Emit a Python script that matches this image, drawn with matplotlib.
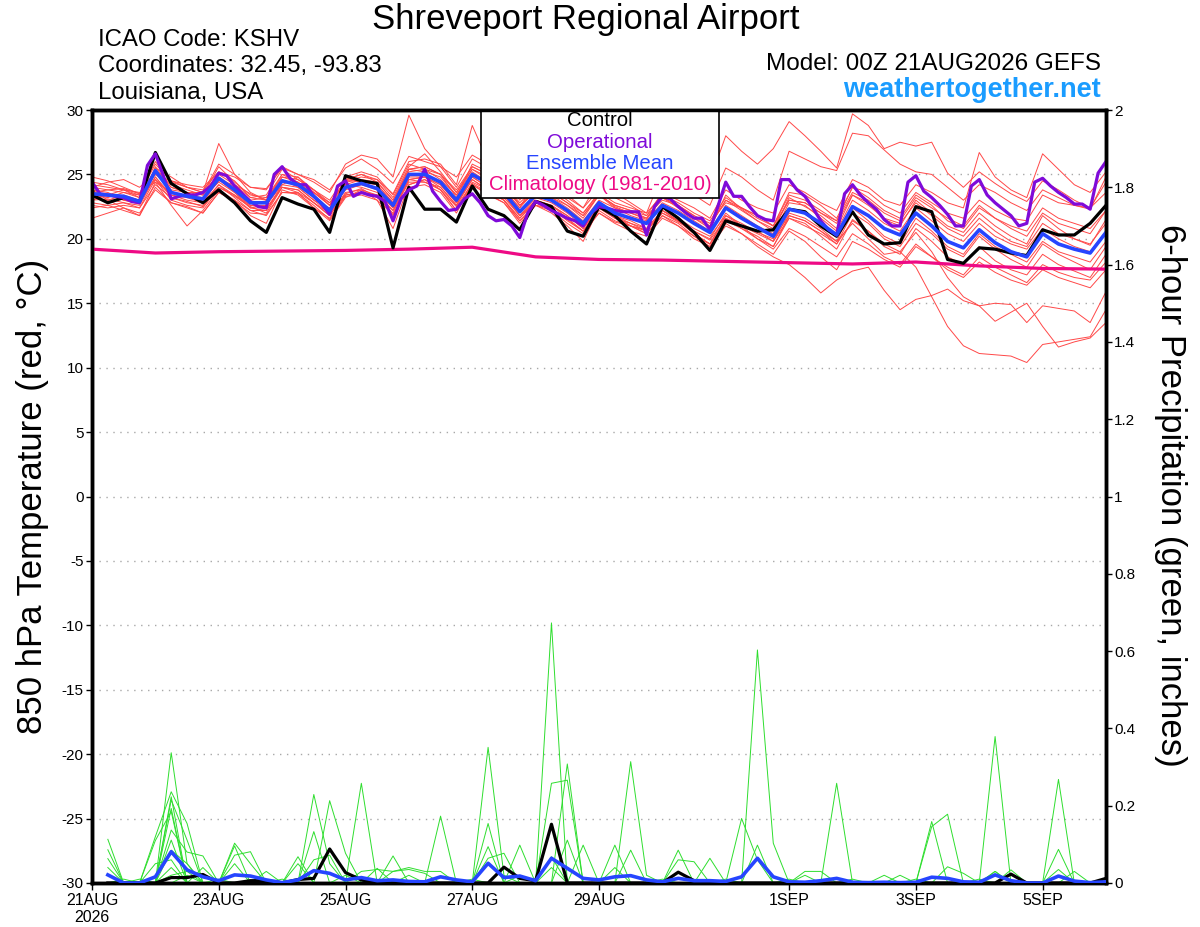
import numpy as np
import matplotlib
matplotlib.use('Agg')
import matplotlib.pyplot as plt
from matplotlib.patches import Rectangle
from matplotlib.ticker import FormatStrFormatter

plt.rcParams['font.family'] = ['Liberation Sans', 'DejaVu Sans']
plt.rcParams['axes.unicode_minus'] = False

# forecast hours
temp_hours = np.arange(0, 385, 6)
op_hours = np.arange(0, 385, 3)
precip_hours = np.arange(6, 385, 6)
clim_hours = np.arange(0, 385, 24)

tick_hours = [0, 48, 96, 144, 192, 264, 312, 360]
tick_labels = ['21AUG\n2026', '23AUG', '25AUG', '27AUG', '29AUG', '1SEP', '3SEP', '5SEP']

# 850 hPa temperature (C), 6-hourly
control_temp = [23.4, 22.8, 23.2, 22.9, 26.7, 24.3, 23.5, 22.8, 23.8, 22.8, 21.4, 20.5, 23.2,
                22.7, 22.3, 20.5, 24.9, 24.5, 24.3, 19.3, 24.0, 22.3, 22.3, 21.3, 24.1, 22.3,
                21.8, 20.7, 22.9, 22.5, 20.6, 20.2, 22.5, 21.8, 20.6, 19.6, 22.5, 21.6, 20.5,
                19.1, 21.4, 21.0, 20.6, 20.7, 22.3, 22.1, 21.0, 20.2, 22.1, 20.3, 19.6, 19.7,
                22.5, 22.1, 18.4, 18.1, 19.3, 19.2, 18.9, 18.7, 20.7, 20.3, 20.3, 21.2, 22.6]

mean_temp = [23.5, 23.4, 23.3, 22.9, 25.3, 23.6, 23.3, 23.1, 24.7, 23.8, 22.8, 22.8, 24.5,
             24.2, 23.3, 22.2, 24.0, 24.3, 23.9, 22.6, 25.0, 25.0, 24.4, 23.0, 25.0, 24.3,
             23.6, 22.1, 23.4, 23.0, 22.2, 21.2, 22.8, 22.0, 21.6, 21.2, 22.6, 22.0, 21.2,
             20.5, 22.4, 21.6, 20.9, 20.2, 22.3, 22.0, 21.2, 20.3, 22.5, 21.8, 20.8, 20.3,
             22.0, 21.0, 19.8, 19.3, 20.7, 19.7, 19.0, 18.6, 20.4, 19.6, 19.2, 18.9, 20.5]

# operational run, 3-hourly
op_temp = [24.4, 23.5, 23.4, 23.3, 23.2, 22.9, 22.8, 25.7, 26.6, 24.9,
           23.1, 23.3, 23.4, 23.4, 23.6, 24.1, 25.1, 24.9, 24.1, 23.5,
           22.9, 22.5, 22.4, 25.0, 25.6, 24.7, 24.2, 24.2, 23.3, 22.7,
           21.9, 24.1, 24.5, 23.3, 23.6, 23.4, 23.3, 22.9, 21.4, 23.1,
           23.8, 24.1, 25.4, 23.7, 22.9, 22.2, 22.3, 23.1, 23.5, 22.8,
           21.8, 21.4, 21.5, 21.0, 20.1, 22.0, 22.9, 22.6, 22.2, 21.9,
           21.6, 21.4, 21.0, 22.0, 22.5, 22.4, 22.2, 22.1, 22.1, 22.1,
           20.3, 22.5, 23.3, 23.1, 22.5, 22.0, 21.6, 21.6, 20.7, 22.5,
           24.4, 23.3, 23.3, 22.5, 21.8, 21.5, 21.4, 24.6, 24.6, 23.8,
           23.3, 22.4, 21.4, 20.7, 20.3, 23.5, 24.2, 23.4, 22.8, 22.3,
           21.5, 21.0, 21.0, 24.4, 24.9, 23.7, 23.2, 22.6, 21.9, 21.0,
           21.0, 24.1, 24.6, 23.4, 22.8, 22.3, 21.8, 21.0, 21.2, 24.4,
           24.7, 24.1, 23.6, 23.2, 22.7, 22.7, 22.3, 25.1, 26.0]

# daily climatology
clim_temp = [19.2, 18.9, 19.0, 19.05, 19.1, 19.2, 19.35, 18.6, 18.4, 18.35, 18.25,
             18.15, 18.05, 18.2, 17.9, 17.7, 17.65]

member_temps = [
    [24.0, 23.8, 23.9, 23.5, 25.8, 24.5, 24.2, 24.0, 25.2, 24.8, 24.0, 23.9, 25.5,
     25.0, 24.6, 23.8, 25.5, 26.2, 25.4, 24.3, 26.4, 26.0, 25.6, 24.8, 26.5, 25.8,
     25.0, 24.2, 25.2, 24.8, 24.0, 23.5, 25.8, 25.0, 24.3, 23.8, 26.0, 25.5, 24.6,
     24.5, 28.0, 26.8, 25.8, 27.0, 29.1, 28.0, 26.8, 25.5, 29.7, 28.8, 27.0, 27.5,
     27.2, 27.5, 25.1, 24.0, 25.2, 24.3, 23.5, 22.9, 24.5, 23.8, 23.0, 22.4, 23.6],
    [23.0, 23.1, 22.8, 22.6, 24.8, 23.2, 22.9, 22.5, 24.0, 23.3, 22.5, 22.0, 24.0,
     23.8, 22.8, 21.8, 23.5, 23.9, 23.2, 22.0, 24.6, 24.4, 23.8, 22.5, 24.3, 23.6,
     23.0, 21.6, 22.8, 22.2, 21.5, 20.6, 22.0, 21.3, 21.0, 20.7, 22.0, 21.3, 20.6,
     19.9, 21.6, 21.0, 20.4, 19.8, 21.6, 21.0, 20.4, 19.6, 21.4, 20.6, 19.6, 19.0,
     17.8, 15.5, 13.2, 11.7, 11.1, 11.0, 10.9, 10.4, 11.8, 12.0, 12.2, 12.4, 14.5],
    [24.2, 24.0, 23.8, 23.2, 25.0, 24.5, 24.0, 23.6, 25.8, 25.0, 24.0, 23.8, 25.6,
     25.0, 24.4, 23.6, 25.8, 26.5, 26.2, 24.8, 29.6, 27.0, 25.6, 24.0, 26.2, 25.5,
     24.6, 23.2, 24.3, 24.0, 23.4, 22.4, 24.5, 23.6, 22.8, 22.0, 25.0, 24.4, 23.4,
     22.6, 25.5, 24.8, 23.8, 23.0, 26.8, 26.2, 25.6, 25.3, 28.2, 28.0, 26.9, 25.8,
     25.2, 25.0, 24.0, 23.0, 24.2, 23.6, 22.8, 22.2, 23.8, 23.2, 22.6, 22.3, 24.8],
    [23.8, 23.6, 23.0, 22.7, 25.6, 24.0, 23.6, 23.0, 24.5, 24.2, 23.5, 23.0, 25.0,
     24.8, 23.8, 22.8, 24.5, 24.8, 24.6, 23.5, 26.0, 26.2, 25.8, 24.2, 28.8, 26.0,
     24.8, 23.0, 24.5, 23.6, 22.8, 22.0, 23.5, 22.5, 22.0, 21.5, 23.2, 22.6, 21.6,
     20.8, 23.4, 22.3, 21.4, 20.6, 23.2, 22.5, 21.8, 20.8, 23.4, 22.8, 21.5, 21.0,
     23.0, 22.0, 21.0, 20.5, 22.0, 21.0, 20.2, 19.6, 21.8, 20.8, 20.0, 19.5, 21.5],
    [23.2, 23.0, 23.4, 23.0, 25.5, 24.8, 24.0, 23.6, 27.4, 25.0, 23.6, 23.0, 24.8,
     24.4, 23.4, 22.0, 24.2, 24.0, 23.6, 22.4, 24.6, 24.8, 24.0, 22.6, 24.8, 24.0,
     23.4, 21.8, 23.0, 22.6, 21.8, 20.8, 22.4, 21.6, 21.2, 20.6, 22.0, 21.4, 20.4,
     19.6, 21.8, 21.0, 20.0, 19.4, 21.6, 21.2, 20.2, 19.2, 21.5, 20.6, 19.4, 18.8,
     20.8, 19.8, 18.6, 18.0, 19.4, 18.3, 17.6, 17.2, 18.8, 18.0, 17.5, 17.0, 18.8],
    [21.6, 22.0, 22.4, 21.8, 24.0, 22.8, 22.5, 22.0, 23.6, 22.9, 22.0, 21.9, 23.6,
     23.5, 22.6, 21.5, 23.3, 23.4, 23.0, 21.9, 24.0, 24.2, 23.6, 22.0, 24.2, 23.5,
     22.8, 21.2, 22.6, 22.2, 21.2, 20.4, 22.0, 21.2, 20.6, 20.2, 21.6, 21.0, 20.2,
     19.4, 21.4, 20.8, 20.2, 19.4, 21.8, 21.4, 20.6, 19.6, 22.0, 21.2, 20.0, 19.4,
     21.2, 20.4, 19.2, 18.6, 20.2, 19.2, 18.4, 17.8, 19.6, 18.8, 18.2, 17.6, 19.4],
    [24.8, 24.5, 24.0, 23.5, 26.0, 24.4, 24.0, 23.8, 25.2, 24.5, 23.2, 23.4, 25.4,
     24.6, 23.8, 23.0, 24.8, 25.2, 24.8, 23.4, 25.8, 25.4, 25.0, 23.8, 25.6, 25.0,
     24.2, 22.8, 24.0, 23.8, 23.0, 22.0, 23.6, 22.8, 22.4, 22.0, 23.4, 22.8, 22.0,
     21.4, 23.2, 22.4, 21.8, 21.0, 23.0, 22.8, 22.0, 21.2, 23.4, 22.6, 21.6, 21.2,
     22.8, 21.8, 20.8, 20.2, 21.6, 20.6, 19.8, 19.4, 21.2, 20.4, 20.0, 19.6, 21.2],
    [22.4, 22.6, 22.2, 21.8, 24.4, 22.6, 21.0, 22.2, 23.8, 23.0, 21.8, 21.2, 23.8,
     23.4, 22.4, 21.4, 23.2, 23.8, 23.0, 20.8, 24.2, 24.6, 23.8, 22.2, 24.4, 23.8,
     23.0, 21.4, 22.6, 22.0, 21.0, 19.8, 22.4, 21.8, 21.0, 20.6, 22.2, 21.4, 20.6,
     20.0, 22.0, 21.0, 20.6, 19.8, 22.0, 21.6, 20.8, 19.8, 22.4, 21.4, 20.2, 19.6,
     21.6, 20.6, 19.4, 18.8, 20.4, 19.4, 18.8, 18.2, 19.8, 19.0, 18.6, 18.2, 19.8],
    [23.6, 23.8, 23.6, 23.2, 24.6, 23.4, 23.0, 22.8, 24.2, 23.4, 22.4, 22.2, 24.2,
     24.8, 23.6, 22.6, 24.6, 25.0, 24.6, 23.2, 25.6, 26.6, 25.2, 23.6, 25.4, 24.6,
     23.8, 22.4, 24.6, 24.2, 23.2, 22.4, 23.8, 23.2, 22.6, 21.8, 23.0, 22.6, 21.8,
     21.2, 22.8, 22.4, 21.6, 21.0, 23.6, 23.4, 22.6, 21.6, 24.0, 23.2, 22.2, 21.6,
     23.4, 22.6, 21.4, 20.8, 22.4, 21.6, 20.8, 20.2, 22.0, 21.2, 20.8, 20.4, 22.2],
    [23.4, 23.2, 23.6, 23.4, 25.2, 23.8, 23.6, 23.4, 24.8, 24.0, 23.0, 23.2, 24.6,
     24.0, 23.0, 22.4, 24.4, 24.6, 24.2, 22.8, 25.2, 25.4, 24.6, 23.4, 25.2, 24.4,
     23.8, 22.4, 23.8, 23.4, 22.6, 21.8, 23.4, 22.6, 22.2, 21.8, 23.6, 23.0, 22.4,
     21.6, 23.8, 23.0, 22.4, 22.0, 24.2, 23.6, 22.8, 22.2, 24.6, 24.0, 23.0, 22.6,
     24.2, 23.6, 22.8, 22.4, 26.7, 24.8, 23.8, 23.2, 26.6, 25.4, 24.2, 23.6, 25.2],
    [22.8, 22.6, 22.8, 22.4, 24.6, 23.0, 22.6, 22.4, 24.0, 23.4, 22.6, 22.4, 24.0,
     23.6, 22.8, 21.8, 23.6, 23.8, 23.4, 22.2, 24.4, 24.4, 24.0, 22.6, 24.6, 23.8,
     23.2, 21.8, 22.8, 22.6, 21.6, 20.6, 22.2, 21.4, 21.0, 20.4, 21.8, 21.2, 20.2,
     19.6, 21.6, 20.8, 20.0, 19.2, 20.8, 20.2, 19.4, 18.6, 20.4, 19.6, 18.6, 18.0,
     19.6, 18.6, 17.6, 17.0, 18.2, 17.4, 16.8, 16.4, 17.6, 17.0, 16.6, 16.2, 17.6],
    [24.4, 24.2, 23.8, 23.4, 25.4, 24.2, 23.8, 23.4, 25.6, 24.4, 23.4, 23.2, 25.0,
     24.4, 23.6, 22.6, 24.6, 24.4, 24.2, 22.8, 25.4, 25.6, 25.0, 23.2, 25.8, 25.2,
     24.4, 22.6, 23.6, 23.2, 22.4, 21.4, 23.0, 22.4, 21.8, 21.4, 22.8, 22.2, 21.4,
     20.6, 22.6, 21.8, 21.0, 20.4, 22.8, 22.6, 21.6, 20.6, 23.0, 22.2, 21.2, 20.6,
     22.4, 21.4, 20.4, 19.8, 21.2, 20.2, 19.6, 19.2, 20.8, 20.0, 19.4, 19.0, 20.6],
    [23.0, 23.4, 23.8, 23.6, 24.4, 23.6, 23.4, 23.2, 24.4, 23.6, 22.6, 22.6, 24.4,
     24.2, 23.6, 22.8, 24.2, 24.6, 24.4, 23.0, 25.4, 25.2, 24.8, 23.4, 25.4, 24.8,
     24.0, 22.6, 23.6, 23.2, 22.6, 21.6, 23.4, 22.4, 22.0, 21.6, 23.2, 22.4, 21.6,
     21.0, 23.0, 22.2, 21.4, 20.8, 23.0, 22.8, 22.0, 21.4, 24.0, 23.6, 22.6, 22.0,
     23.6, 22.8, 22.0, 21.6, 23.0, 22.2, 21.6, 21.4, 23.4, 22.8, 22.6, 22.4, 24.4],
    [23.2, 23.4, 23.0, 22.8, 24.8, 23.4, 23.2, 22.8, 24.6, 23.6, 22.4, 22.6, 24.2,
     24.0, 23.0, 22.0, 23.8, 24.2, 23.8, 22.4, 24.8, 24.8, 24.2, 22.8, 24.8, 24.0,
     23.4, 21.8, 23.2, 22.8, 22.0, 21.0, 22.6, 21.8, 21.4, 20.8, 22.2, 21.4, 20.4,
     19.6, 21.2, 20.4, 19.4, 18.6, 18.0, 17.0, 15.8, 16.8, 17.5, 17.8, 16.0, 14.5,
     15.3, 15.6, 16.1, 15.2, 14.8, 15.0, 14.9, 13.5, 14.8, 14.6, 14.4, 13.5, 15.9],
    [22.6, 22.4, 22.6, 22.4, 24.2, 23.2, 22.8, 22.6, 24.2, 23.2, 22.2, 22.2, 24.0,
     23.8, 22.8, 22.0, 23.4, 23.6, 23.4, 22.2, 24.6, 24.8, 24.2, 22.8, 24.6, 23.8,
     23.0, 21.6, 23.0, 22.6, 21.8, 20.8, 22.6, 21.8, 21.2, 20.8, 22.2, 21.6, 20.8,
     20.2, 21.8, 21.2, 20.5, 20.0, 21.8, 21.4, 20.6, 19.8, 21.2, 20.0, 18.8, 19.0,
     20.5, 19.0, 17.0, 15.5, 14.8, 13.6, 14.3, 15.0, 13.2, 11.6, 12.0, 12.3, 13.5],
    [23.8, 23.0, 22.4, 22.0, 23.8, 22.8, 22.4, 22.0, 23.6, 23.0, 22.2, 21.8, 23.6,
     23.6, 22.4, 21.6, 23.4, 23.6, 23.4, 21.8, 24.2, 24.6, 23.8, 22.2, 24.2, 23.4,
     22.8, 21.4, 22.6, 22.4, 21.4, 20.6, 22.4, 21.6, 21.0, 20.4, 21.8, 21.0, 20.0,
     19.4, 21.0, 20.4, 19.6, 18.8, 20.6, 19.8, 18.6, 17.6, 19.8, 19.2, 18.4, 17.8,
     19.4, 18.6, 17.8, 17.2, 18.6, 17.8, 17.2, 16.6, 18.0, 17.4, 17.0, 16.8, 18.2],
    [24.0, 24.4, 24.6, 24.0, 25.0, 24.0, 23.6, 23.6, 25.0, 24.2, 23.2, 23.0, 24.8,
     24.6, 23.8, 22.6, 24.6, 25.0, 24.4, 23.0, 25.4, 25.6, 25.0, 23.6, 25.6, 25.0,
     24.2, 22.6, 23.8, 23.6, 22.8, 21.8, 23.4, 22.6, 22.2, 21.6, 23.2, 22.6, 21.8,
     21.0, 23.0, 22.4, 21.8, 21.0, 23.4, 23.0, 22.2, 21.4, 23.6, 23.0, 22.0, 21.4,
     23.2, 22.4, 21.6, 21.0, 22.6, 21.6, 21.0, 20.6, 22.4, 21.6, 21.2, 20.8, 22.2],
]

# 6-hour precipitation (inches), 6h .. 384h
control_precip = [0, 0, 0, 0, 0.014, 0.014, 0.022, 0, 0, 0.006,
                  0.006, 0, 0.009, 0.012, 0.088, 0.027, 0.008, 0, 0, 0,
                  0, 0, 0, 0, 0, 0.041, 0.012, 0.006, 0.152, 0,
                  0, 0, 0, 0, 0, 0, 0.028, 0.006, 0, 0,
                  0, 0, 0, 0, 0, 0, 0, 0, 0, 0,
                  0, 0, 0, 0, 0, 0, 0, 0.023, 0, 0,
                  0, 0, 0, 0.012]

mean_precip = [0.021, 0, 0, 0.016, 0.081, 0.034, 0.016, 0.006, 0.021, 0.018,
               0.008, 0.001, 0.008, 0.032, 0.025, 0.008, 0.014, 0.006, 0.008, 0.004,
               0.003, 0.016, 0.008, 0.003, 0.051, 0.014, 0.018, 0.006, 0.064, 0.038,
               0.012, 0.008, 0.016, 0.019, 0.008, 0.003, 0.012, 0.006, 0.006, 0.004,
               0.016, 0.064, 0.016, 0.003, 0.002, 0.006, 0.012, 0.002, 0.001, 0.002,
               0.001, 0.002, 0.015, 0.012, 0.003, 0.002, 0.021, 0.006, 0, 0,
               0.018, 0.005, 0.001, 0.003]

# member precipitation, non-zero 6h periods only {period: inches}
member_precip = [
    {5: 0.337, 6: 0.05, 29: 0.673, 42: 0.098},
    {4: 0.12, 5: 0.236, 6: 0.154, 25: 0.351, 26: 0.02, 57: 0.379},
    {5: 0.223, 14: 0.229, 15: 0.05, 30: 0.308, 42: 0.603, 43: 0.103},
    {1: 0.113, 5: 0.215, 6: 0.111, 17: 0.258, 34: 0.314, 35: 0.02},
    {1: 0.086, 5: 0.193, 9: 0.103, 10: 0.05, 22: 0.173, 29: 0.258, 30: 0.266, 53: 0.159},
    {4: 0.11, 5: 0.185, 9: 0.096, 15: 0.213, 16: 0.077, 41: 0.167, 42: 0.06, 47: 0.258},
    {5: 0.137, 6: 0.08, 7: 0.07, 14: 0.133, 25: 0.154, 53: 0.146, 54: 0.178, 61: 0.268},
    {1: 0.063, 5: 0.111, 9: 0.072, 10: 0.081, 13: 0.068, 25: 0.094, 27: 0.098, 30: 0.111, 61: 0.087},
    {5: 0.085, 6: 0.05, 19: 0.07, 25: 0.064, 26: 0.077, 33: 0.098, 37: 0.085, 57: 0.03},
    {1: 0.04, 4: 0.05, 5: 0.06, 14: 0.06, 15: 0.072, 29: 0.068, 31: 0.098, 39: 0.064, 61: 0.035},
    {5: 0.04, 7: 0.04, 11: 0.03, 13: 0.05, 18: 0.038, 29: 0.04, 34: 0.085, 37: 0.06,
     38: 0.055, 54: 0.042, 55: 0.025},
    {1: 0.02, 9: 0.05, 17: 0.03, 18: 0.035, 19: 0.03, 20: 0.04, 21: 0.03, 22: 0.03,
     33: 0.04, 45: 0.03, 46: 0.03, 50: 0.02, 58: 0.034, 62: 0.03},
    {3: 0.01, 5: 0.02, 6: 0.03, 19: 0.03, 20: 0.035, 21: 0.025, 45: 0.02, 51: 0.02, 57: 0.03},
    {2: 0.01, 6: 0.02, 8: 0.01, 12: 0.01, 16: 0.02, 20: 0.02, 24: 0.01, 27: 0.02,
     36: 0.01, 40: 0.01, 44: 0.01, 48: 0.01, 52: 0.01, 56: 0.01},
]

red = '#ff4848'
green = '#2ede2e'
purple = '#7f0ad9'
blue = '#2645ff'
pink = '#ee0a85'

fig = plt.figure(figsize=(12, 9.27), dpi=100)
ax = fig.add_axes([92 / 1200, 44 / 927, 1014 / 1200, 773 / 927])
ax2 = ax.twinx()

for m in member_temps:
    ax.plot(temp_hours, m, color=red, lw=0.7, zorder=2)
ax.plot(clim_hours, clim_temp, color=pink, lw=2.3, zorder=3)
ax.plot(temp_hours, control_temp, color='black', lw=2.3, zorder=4)
ax.plot(op_hours, op_temp, color=purple, lw=2.3, zorder=5)
ax.plot(temp_hours, mean_temp, color=blue, lw=2.6, zorder=6)

for d in member_precip:
    p = np.zeros(len(precip_hours))
    for k, v in d.items():
        p[k - 1] = v
    ax2.plot(precip_hours, p, color=green, lw=0.7, zorder=2)
ax2.plot(precip_hours, control_precip, color='black', lw=2.3, zorder=4)
ax2.plot(precip_hours, mean_precip, color=blue, lw=2.6, zorder=5)

ax.set_xlim(0, 384)
ax.set_ylim(-30, 30)
ax2.set_ylim(0, 2)
ax.set_yticks(np.arange(-30, 31, 5))
ax2.set_yticks(np.arange(0, 2.01, 0.2))
ax2.yaxis.set_major_formatter(FormatStrFormatter('%g'))
ax.set_xticks(tick_hours)
ax.set_xticklabels(tick_labels)

for y in np.arange(-25, 26, 5):
    ax.axhline(y, color='#a8a8a8', lw=1, ls=(0, (1, 4)), zorder=1)

for a in (ax, ax2):
    for s in a.spines.values():
        s.set_linewidth(2.5)
    a.tick_params(direction='out', length=4, width=1, labelsize=11, pad=2)
ax.tick_params(axis='x', length=5, labelsize=11.5)

# legend box
ax.add_patch(Rectangle((0.3836, 0.886), 0.2347, 0.114, transform=ax.transAxes,
                       facecolor='white', edgecolor='black', lw=1.2, zorder=10))
legend_items = [('Control', 'black'), ('Operational', purple),
                ('Ensemble Mean', blue), ('Climatology (1981-2010)', pink)]
for n, (txt, c) in enumerate(legend_items):
    ax.text(0.501, 0.9858 - n * 0.0276, txt, color=c, fontsize=14.7,
            ha='center', va='center', transform=ax.transAxes, zorder=11)

fig.text(0.488, 0.9795, 'Shreveport Regional Airport', fontsize=25, ha='center', va='center')
fig.text(0.0817, 0.9569, 'ICAO Code: KSHV', fontsize=17.3, ha='left', va='center')
fig.text(0.0817, 0.9288, 'Coordinates: 32.45, -93.83', fontsize=17.3, ha='left', va='center')
fig.text(0.0817, 0.8997, 'Louisiana, USA', fontsize=17.3, ha='left', va='center')
fig.text(0.9175, 0.931, 'Model: 00Z 21AUG2026 GEFS', fontsize=17.5, ha='right', va='center')
fig.text(0.9175, 0.903, 'weathertogether.net', fontsize=19.5, ha='right', va='center',
         color='#1a9cff', fontweight='bold')

fig.text(0.027, 0.465, '850 hPa Temperature (red, °C)', fontsize=25, rotation=90,
         ha='center', va='center')
fig.text(0.975, 0.466, '6-hour Precipitation (green, inches)', fontsize=25, rotation=-90,
         ha='center', va='center')

fig.savefig('out.png', dpi=100)
